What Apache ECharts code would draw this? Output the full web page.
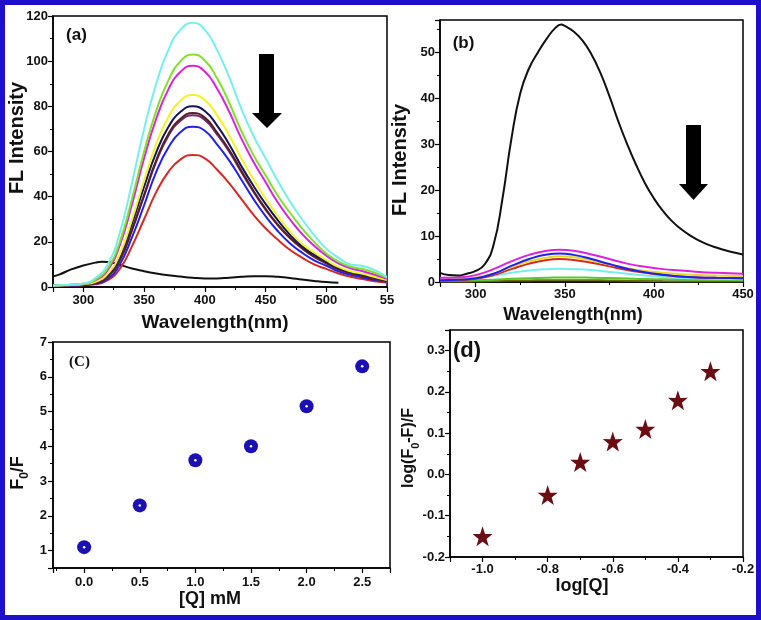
<!DOCTYPE html>
<html>
<head>
<meta charset="utf-8">
<script src="https://cdn.jsdelivr.net/npm/echarts@6/dist/echarts.min.js"></script>
<style>
    html, body { margin: 0; padding: 0; background: #fff; }
    #chart { width: 761px; height: 620px; }
</style>
</head>
<body>
<div id="chart"></div>
<script>
    // (a) emission spectra
    const wlA = [275, 280, 290, 300, 310, 320, 330, 340, 350, 360, 370, 380, 390, 400, 410, 420, 430, 440, 450, 460, 470, 480, 490, 500, 510, 520, 530, 540, 550];
    const cyanA = [0.7, 0.8, 1, 1.5, 4, 10, 24, 46, 70, 90, 105, 114, 117, 114, 105, 93, 79, 67, 57, 47, 38, 30, 23, 17, 13, 10, 9.3, 7.5, 4.5];
    const greenA = [0.7, 0.8, 1, 1.4, 3.3, 8.3, 20, 39, 60, 78, 91.5, 100, 103, 100.3, 92.5, 81.7, 69.2, 58.5, 49.5, 40.5, 33, 26, 20, 14.8, 11.2, 9, 8, 6.3, 4];
    const magentaA = [0.7, 0.8, 1, 1.4, 3, 7.5, 18.5, 36.5, 57, 74.5, 87.5, 95.3, 98, 95.4, 87.9, 77.7, 65.8, 55.5, 46.5, 37.5, 30, 23.5, 18.3, 13.9, 10.5, 8.3, 7, 5.4, 3.6];
    const yellowA = [0.6, 0.7, 0.85, 1.2, 2.3, 5.8, 14.5, 29.8, 47.2, 63.3, 75.2, 82.5, 85, 82.8, 76.1, 67.2, 57, 47.6, 39.1, 31.5, 24.7, 19.1, 15.3, 11.9, 8.9, 7, 5.8, 4.4, 3.1];
    const navyA = [0.5, 0.6, 0.8, 1.1, 2.2, 5.4, 13.6, 28, 44.4, 59.6, 70.8, 77.6, 80, 77.9, 71.6, 63.2, 53.6, 44.8, 36.8, 29.6, 23.2, 18, 14.4, 11.2, 8.4, 6.6, 5.4, 4.2, 2.9];
    const wineA = [0.55, 0.65, 0.8, 1.1, 1.8, 4.5, 11.9, 25.4, 40.8, 56.2, 67.8, 74.5, 77, 75, 68.5, 60.8, 51.6, 42.7, 34.7, 27.7, 21.9, 17.3, 13.5, 10.6, 7.9, 6.2, 4.9, 3.6, 2.7];
    const purpleA = [0.55, 0.65, 0.76, 1.06, 1.8, 4.5, 11.8, 25.1, 40.3, 55.5, 66.9, 73.6, 76, 74, 67.6, 60, 50.9, 42.2, 34.2, 27.4, 21.7, 17.1, 13.3, 10.5, 7.8, 6.1, 4.9, 3.6, 2.7];
    const blueA = [0.5, 0.6, 0.7, 1, 1.5, 3.6, 10, 22, 36.2, 51, 61.8, 68.6, 71, 69.2, 63.2, 56.1, 47.6, 39, 31.4, 24.8, 19.4, 15.2, 11.8, 9.4, 7, 5.4, 4.2, 3.1, 2.3];
    const redA = [0.4, 0.5, 0.6, 0.8, 1.2, 3, 8, 18, 30, 42, 51, 56.5, 58.5, 57, 52, 46, 39, 32, 26, 21, 16.5, 13, 10, 8, 6, 4.5, 3.5, 2.5, 2];
    const wlBlackA = [275, 280, 290, 300, 310, 315, 320, 330, 340, 350, 360, 370, 380, 390, 400, 410, 420, 430, 440, 450, 460, 470, 480, 490, 500, 510];
    const blackA = [4.8, 5.5, 7.8, 9.5, 10.8, 11.2, 11.1, 9.8, 8.2, 7, 6, 5.2, 4.6, 4.1, 3.8, 3.8, 4.1, 4.5, 4.8, 4.8, 4.5, 4, 3.3, 2.7, 2.2, 1.9];

    // (b) emission spectra
    const wlBlackB = [280, 285, 290, 295, 300, 305, 310, 315, 320, 325, 330, 335, 340, 345, 348, 350, 355, 360, 365, 370, 375, 380, 385, 390, 395, 400, 405, 410, 415, 420, 425, 430, 435, 440, 445, 450];
    const blackB = [2, 1.5, 1.4, 1.8, 2.4, 3.8, 8, 18, 31, 41, 46.5, 50, 53, 55.4, 56, 55.7, 54.5, 52.5, 49.5, 45.5, 40.5, 35, 30, 25.5, 21.5, 18.2, 15.5, 13.3, 11.6, 10.2, 9.1, 8.2, 7.5, 6.9, 6.4, 6];
    const wlB = [280, 290, 300, 310, 320, 330, 340, 347, 355, 365, 375, 385, 395, 405, 415, 425, 435, 450];
    const magentaB = [0.9, 1.0, 1.5, 2.8, 4.5, 5.9, 6.8, 7.0, 6.8, 6.0, 5.0, 4.0, 3.3, 2.8, 2.5, 2.2, 2.0, 1.8];
    const blueB = [0.4, 0.5, 0.8, 1.8, 3.5, 5.0, 6.0, 6.2, 5.9, 5.0, 3.9, 2.9, 2.1, 1.6, 1.2, 1.0, 0.9, 0.8];
    const yellowB = [0.5, 0.6, 0.9, 1.8, 3.3, 4.5, 5.3, 5.6, 5.4, 4.7, 3.8, 3.0, 2.4, 2.0, 1.7, 1.5, 1.4, 1.3];
    const redB = [0.3, 0.4, 0.7, 1.5, 2.8, 4.0, 4.8, 5.0, 4.8, 4.2, 3.4, 2.6, 2.0, 1.5, 1.2, 1.0, 0.9, 0.8];
    const cyanB = [0.5, 0.6, 0.9, 1.4, 2.0, 2.5, 2.8, 2.9, 2.8, 2.6, 2.2, 1.8, 1.4, 1.1, 0.9, 0.8, 0.7, 0.6];
    const greenB = [0.3, 0.3, 0.4, 0.5, 0.7, 0.8, 0.9, 1.0, 1.0, 0.95, 0.85, 0.75, 0.65, 0.6, 0.55, 0.5, 0.5, 0.45];
    const oliveB = [0.1, 0.1, 0.15, 0.2, 0.3, 0.35, 0.4, 0.4, 0.4, 0.38, 0.33, 0.28, 0.24, 0.2, 0.18, 0.16, 0.15, 0.15];

    // (C) Stern-Volmer
    const qC = [0, 0.5, 1.0, 1.5, 2.0, 2.5];
    const f0fC = [1.1, 2.3, 3.6, 4.0, 5.15, 6.3];

    // (d) double log
    const logQ = [-1.0, -0.8, -0.7, -0.6, -0.5, -0.4, -0.3];
    const logF = [-0.15, -0.05, 0.03, 0.08, 0.11, 0.18, 0.25];

    const FONT = 'Liberation Sans, Arial, sans-serif';
    const STAR = 'path://M50,0 L61.8,35.1 L97.6,34.5 L69.1,56.7 L79.4,90.5 L50,70 L20.6,90.5 L30.9,56.7 L2.4,34.5 L38.2,35.1 Z';

    function zip(xs, ys) {
        return xs.map((x, i) => [x, ys[i]]);
    }

    function valAxis(idx, opts) {
        return Object.assign({
            type: 'value',
            gridIndex: idx,
            splitLine: {show: false},
            axisLine: {onZero: false, lineStyle: {color: '#000', width: 1.5}},
            axisTick: {length: 5, lineStyle: {color: '#000', width: 1.2}},
            minorTick: {show: true, splitNumber: 2, length: 3, lineStyle: {color: '#000', width: 1}},
            axisLabel: {color: '#111', fontWeight: 'bold', fontSize: 13, fontFamily: FONT, margin: 5}
        }, opts);
    }

    function spec(name, grid, xs, ys, color) {
        return {
            name: name,
            type: 'line',
            xAxisIndex: grid,
            yAxisIndex: grid,
            data: zip(xs, ys),
            smooth: true,
            showSymbol: false,
            lineStyle: {color: color, width: 2},
            itemStyle: {color: color}
        };
    }

    function label(text, x, y, size, opts) {
        return {
            type: 'text', x: x, y: y, rotation: (opts && opts.rot) || 0,
            style: Object.assign({
                text: text, fill: '#111', font: 'bold ' + size + 'px ' + FONT,
                align: 'center', verticalAlign: 'middle'
            }, (opts && opts.style) || {})
        };
    }

    const gridBase = {show: true, borderColor: '#000', borderWidth: 1.5, backgroundColor: 'transparent', containLabel: false};

    const option = {
        backgroundColor: '#fff',
        animation: false,
        grid: [
            Object.assign({left: 53, top: 16, width: 334, height: 271}, gridBase),
            Object.assign({left: 440, top: 20, width: 303, height: 262}, gridBase),
            Object.assign({left: 53, top: 342, width: 337, height: 226}, gridBase),
            Object.assign({left: 450, top: 330, width: 293, height: 227}, gridBase)
        ],
        xAxis: [
            valAxis(0, {min: 275, max: 550, splitNumber: 5,
                axisLabel: {color: '#111', fontWeight: 'bold', fontSize: 13, fontFamily: FONT, margin: 7,
                    showMinLabel: false, formatter: v => (v === 550 ? '55' : v)}}),
            valAxis(1, {min: 280, max: 450, splitNumber: 3,
                axisLabel: {color: '#111', fontWeight: 'bold', fontSize: 13, fontFamily: FONT, margin: 6, showMinLabel: false}}),
            valAxis(2, {min: -0.28, max: 2.75, splitNumber: 6,
                axisLabel: {color: '#111', fontWeight: 'bold', fontSize: 13, fontFamily: FONT, margin: 8,
                    showMinLabel: false, showMaxLabel: false, formatter: v => v.toFixed(1)}}),
            valAxis(3, {min: -1.1, max: -0.2, splitNumber: 4,
                axisLabel: {color: '#111', fontWeight: 'bold', fontSize: 13, fontFamily: FONT, margin: 6,
                    showMinLabel: false, formatter: v => v.toFixed(1)}})
        ],
        yAxis: [
            valAxis(0, {min: 0, max: 120, interval: 20}),
            valAxis(1, {min: 0, max: 57, interval: 10,
                axisLabel: {color: '#111', fontWeight: 'bold', fontSize: 13, fontFamily: FONT, margin: 5, showMaxLabel: false}}),
            valAxis(2, {min: 0.5, max: 7, splitNumber: 6,
                axisLabel: {color: '#111', fontWeight: 'bold', fontSize: 13, fontFamily: FONT, margin: 6, showMinLabel: false}}),
            valAxis(3, {min: -0.2, max: 0.35, interval: 0.1,
                axisLabel: {color: '#111', fontWeight: 'bold', fontSize: 13, fontFamily: FONT, margin: 5,
                    showMaxLabel: false, formatter: v => v.toFixed(1)}})
        ],
        series: [
            spec('black', 0, wlBlackA, blackA, '#111'),
            spec('red', 0, wlA, redA, '#d42a22'),
            spec('blue', 0, wlA, blueA, '#2020f0'),
            spec('purple', 0, wlA, purpleA, '#6a2a78'),
            spec('wine', 0, wlA, wineA, '#5a2020'),
            spec('navy', 0, wlA, navyA, '#15155e'),
            spec('yellow', 0, wlA, yellowA, '#f4f420'),
            spec('magenta', 0, wlA, magentaA, '#dc22dc'),
            spec('green', 0, wlA, greenA, '#80e02a'),
            spec('cyan', 0, wlA, cyanA, '#76eef0'),

            spec('olive', 1, wlB, oliveB, '#6b6b10'),
            spec('green', 1, wlB, greenB, '#5cc82a'),
            spec('cyan', 1, wlB, cyanB, '#76eef0'),
            spec('red', 1, wlB, redB, '#d42a22'),
            spec('yellow', 1, wlB, yellowB, '#e8d820'),
            spec('blue', 1, wlB, blueB, '#2020f0'),
            spec('magenta', 1, wlB, magentaB, '#dc22dc'),
            spec('black', 1, wlBlackB, blackB, '#111'),

            {
                type: 'scatter', xAxisIndex: 2, yAxisIndex: 2,
                data: zip(qC, f0fC), symbol: 'circle', symbolSize: 14,
                itemStyle: {color: '#1a10b4', opacity: 1}
            },
            {
                type: 'scatter', xAxisIndex: 2, yAxisIndex: 2,
                data: zip(qC, f0fC), symbol: 'circle', symbolSize: 2.5,
                itemStyle: {color: '#fff', opacity: 1}, z: 3
            },
            {
                type: 'scatter', xAxisIndex: 3, yAxisIndex: 3,
                data: zip(logQ, logF), symbol: STAR, symbolSize: 20,
                itemStyle: {color: '#6a0e14', opacity: 1}
            }
        ],
        graphic: [
            // outer blue frame
            {type: 'rect', shape: {x: 2.5, y: 2.5, width: 756, height: 615}, style: {fill: 'none', stroke: '#1e10c8', lineWidth: 5}, z: 100},
            // quench arrows
            {type: 'polygon', shape: {points: [[259, 54], [274, 54], [274, 113], [282, 113], [267, 128], [252, 113], [259, 113]]}, style: {fill: '#000'}},
            {type: 'polygon', shape: {points: [[686, 125], [701, 125], [701, 184], [708, 184], [693.5, 200], [679, 184], [686, 184]]}, style: {fill: '#000'}},
            // panel tags
            label('(a)', 76.5, 35, 17),
            label('(b)', 463.5, 43, 17),
            label('(C)', 79.5, 362, 15, {style: {font: 'bold 15px Liberation Serif, Times New Roman, serif'}}),
            label('(d)', 467, 351, 22),
            // axis titles
            label('FL Intensity', 17, 138, 20, {rot: Math.PI / 2}),
            label('Wavelength(nm)', 215, 323, 19),
            label('FL Intensity', 400, 160, 20, {rot: Math.PI / 2}),
            label('Wavelength(nm)', 573, 315, 18),
            {
                type: 'text', x: 20, y: 473, rotation: Math.PI / 2,
                style: {
                    text: '{a|F}{s|0}{a|/F}', align: 'center', verticalAlign: 'middle',
                    rich: {
                        a: {fill: '#111', font: 'bold 18px ' + FONT, verticalAlign: 'top'},
                        s: {fill: '#111', font: 'bold 12px ' + FONT, padding: [10, 0, 0, 0]}
                    }
                }
            },
            label('[Q] mM', 210, 599, 18),
            {
                type: 'text', x: 411, y: 448, rotation: Math.PI / 2,
                style: {
                    text: '{a|log(F}{s|0}{a|-F)/F}', align: 'center', verticalAlign: 'middle',
                    rich: {
                        a: {fill: '#111', font: 'bold 16px ' + FONT, verticalAlign: 'top'},
                        s: {fill: '#111', font: 'bold 11px ' + FONT, padding: [9, 0, 0, 0]}
                    }
                }
            },
            label('log[Q]', 582, 586, 18)
        ]
    };

    const myChart = echarts.init(document.getElementById('chart'), null, {renderer: 'canvas'});
    myChart.setOption(option);
</script>
</body>
</html>
